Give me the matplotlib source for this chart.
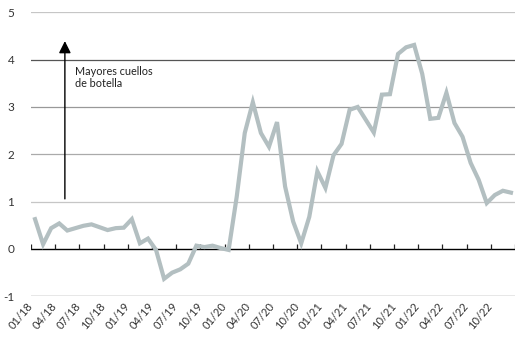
import numpy as np
import matplotlib
matplotlib.use('Agg')
import matplotlib.pyplot as plt

plt.rcParams['font.family'] = ['Lato', 'DejaVu Sans']

# monthly index, 01/18 .. 12/22
values = [0.63, 0.10, 0.44, 0.54, 0.39, 0.44, 0.49, 0.52, 0.46, 0.40, 0.44, 0.45,
          0.63, 0.12, 0.22, -0.02, -0.63, -0.50, -0.43, -0.31, 0.07, 0.04, 0.07, 0.02,
          -0.02, 1.10, 2.45, 3.10, 2.45, 2.16, 2.68, 1.32, 0.58, 0.12, 0.68, 1.64,
          1.29, 1.98, 2.22, 2.94, 3.00, 2.73, 2.46, 3.26, 3.27, 4.12, 4.26, 4.31,
          3.70, 2.75, 2.77, 3.30, 2.66, 2.37, 1.82, 1.46, 0.97, 1.14, 1.23, 1.19]
years = ['18', '19', '20', '21', '22']
months = ['01', '04', '07', '10']
tick_labels = ['{}/{}'.format(m, y) for y in years for m in months]
yticks = [-1, 0, 1, 2, 3, 4, 5]
grid_colors = ['#444444', '#000000', '#c6c6c6', '#aaaaaa', '#999999', '#555555', '#c6c6c6']

x = np.arange(len(values))

fig = plt.figure(figsize=(5.15, 3.41), dpi=100)
ax = fig.add_axes([31 / 515, 0.131, 486 / 515, 0.833])

for yv, c in zip(yticks, grid_colors):
    ax.axhline(yv, color=c, lw=1.0 if yv == 0 else 0.9, zorder=1)

# small tick marks on the zero line, at quarter boundaries
bounds = np.arange(0, len(values) + 1, 3) - 0.5
ax.vlines(bounds, 0, 0.1, color='#222222', lw=0.9, zorder=2)

ax.plot(x, values, color='#b3bfc1', lw=3.0, solid_joinstyle='miter', zorder=3)

ax.annotate('', xy=(3.7, 4.45), xytext=(3.7, 1.0),
            arrowprops=dict(arrowstyle='-|>,head_width=0.3,head_length=0.6',
                            color='black', lw=1.0, mutation_scale=12))
ax.text(5.0, 3.62, 'Mayores cuellos\nde botella', fontsize=7.8, color='#222222',
        va='center', ha='left', linespacing=1.15)

ax.set_xlim(-0.5, len(values) - 0.25)
ax.set_ylim(-1, 5)
ax.set_yticks(yticks)
ax.set_yticklabels([str(v) for v in yticks], color='#333333', fontsize=8.5)
ax.set_xticks(x[::3])
ax.set_xticklabels(tick_labels, rotation=50, ha='right', fontsize=8, color='#333333')
ax.tick_params(axis='both', length=0)
ax.tick_params(axis='y', pad=12)
ax.tick_params(axis='x', pad=3)
for s in ax.spines.values():
    s.set_visible(False)

fig.savefig('out.png', dpi=100)
